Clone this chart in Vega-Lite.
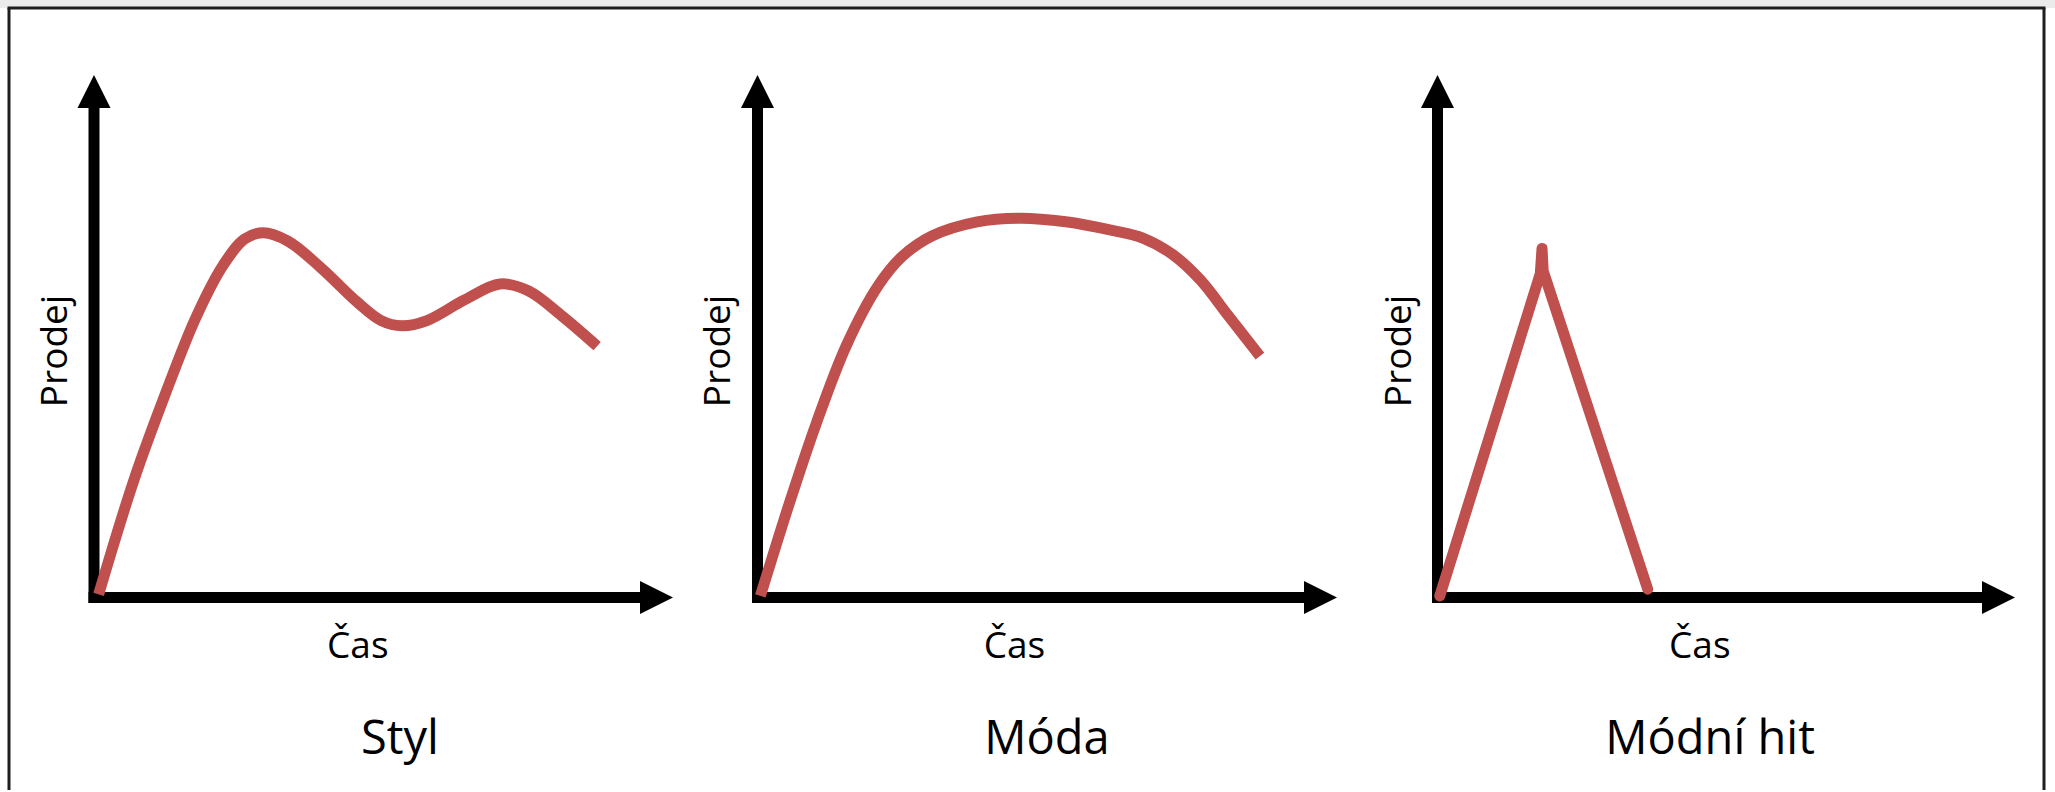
{
  "$schema": "https://vega.github.io/schema/vega-lite/v6.json",
  "padding": 0,
  "spacing": 0,
  "bounds": "flush",
  "background": "white",
  "config": {"view": {"stroke": null}, "font": "Open Sans"},
  "datasets": {
    "curves": [
      {"panel": "Styl", "i": 0, "t": 0.8, "sales": 0.6},
      {"panel": "Styl", "i": 1, "t": 6.9, "sales": 22.5},
      {"panel": "Styl", "i": 2, "t": 12.3, "sales": 38.9},
      {"panel": "Styl", "i": 3, "t": 17.6, "sales": 53.6},
      {"panel": "Styl", "i": 4, "t": 22.3, "sales": 63.6},
      {"panel": "Styl", "i": 5, "t": 26.0, "sales": 68.6},
      {"panel": "Styl", "i": 6, "t": 29.2, "sales": 69.8},
      {"panel": "Styl", "i": 7, "t": 33.5, "sales": 68.2},
      {"panel": "Styl", "i": 8, "t": 39.2, "sales": 63.1},
      {"panel": "Styl", "i": 9, "t": 45.4, "sales": 56.6},
      {"panel": "Styl", "i": 10, "t": 49.6, "sales": 53.0},
      {"panel": "Styl", "i": 11, "t": 53.2, "sales": 52.0},
      {"panel": "Styl", "i": 12, "t": 57.5, "sales": 53.0},
      {"panel": "Styl", "i": 13, "t": 63.9, "sales": 56.9},
      {"panel": "Styl", "i": 14, "t": 70.1, "sales": 60.0},
      {"panel": "Styl", "i": 15, "t": 75.0, "sales": 58.7},
      {"panel": "Styl", "i": 16, "t": 80.8, "sales": 53.9},
      {"panel": "Styl", "i": 17, "t": 86.9, "sales": 48.1},
      {"panel": "Móda", "i": 0, "t": 0.5, "sales": 0.3},
      {"panel": "Móda", "i": 1, "t": 5.4, "sales": 17.7},
      {"panel": "Móda", "i": 2, "t": 10.1, "sales": 33.2},
      {"panel": "Móda", "i": 3, "t": 15.4, "sales": 48.4},
      {"panel": "Móda", "i": 4, "t": 20.9, "sales": 59.8},
      {"panel": "Móda", "i": 5, "t": 25.0, "sales": 65.3},
      {"panel": "Móda", "i": 6, "t": 30.1, "sales": 69.2},
      {"panel": "Móda", "i": 7, "t": 37.9, "sales": 71.9},
      {"panel": "Móda", "i": 8, "t": 45.5, "sales": 72.6},
      {"panel": "Móda", "i": 9, "t": 53.2, "sales": 71.9},
      {"panel": "Móda", "i": 10, "t": 61.0, "sales": 70.3},
      {"panel": "Móda", "i": 11, "t": 66.5, "sales": 68.8},
      {"panel": "Móda", "i": 12, "t": 71.7, "sales": 65.6},
      {"panel": "Móda", "i": 13, "t": 76.4, "sales": 60.8},
      {"panel": "Móda", "i": 14, "t": 81.2, "sales": 54.0},
      {"panel": "Móda", "i": 15, "t": 86.7, "sales": 46.2},
      {"panel": "Módní hit", "i": 0, "t": 0.4, "sales": 0.3},
      {"panel": "Módní hit", "i": 1, "t": 17.8, "sales": 62.0},
      {"panel": "Módní hit", "i": 2, "t": 18.1, "sales": 66.8},
      {"panel": "Módní hit", "i": 3, "t": 18.3, "sales": 62.5},
      {"panel": "Módní hit", "i": 4, "t": 36.4, "sales": 1.6}
    ]
  },
  "hconcat": [
    {
      "width": 715,
      "height": 792,
      "layer": [
        {"data": {"values": [{}]}, "mark": {"type": "rect", "color": "#ebebeb"},
         "encoding": {"x": {"datum": -16.235, "type": "quantitative", "scale": {"domain": [-16.235, 107.254], "nice": false, "zero": false}, "axis": null},
                      "x2": {"datum": 107.254},
                      "y": {"datum": 112.82, "type": "quantitative", "scale": {"domain": [-37.225, 114.354], "nice": false, "zero": false}, "axis": null},
                      "y2": {"datum": 114.354}}},
        {"data": {"values": [{}]}, "mark": {"type": "rule", "color": "#1e1e1e", "strokeWidth": 3},
         "encoding": {"x": {"datum": -14.94, "type": "quantitative"}, "x2": {"datum": 107.254}, "y": {"datum": 112.82, "type": "quantitative"}}},
        {"data": {"values": [{}]}, "mark": {"type": "rule", "color": "#1e1e1e", "strokeWidth": 3},
         "encoding": {"x": {"datum": -14.68, "type": "quantitative"}, "y": {"datum": -36.85, "type": "quantitative"}, "y2": {"datum": 112.82}}},
        {"data": {"values": [{}]}, "mark": {"type": "rule", "color": "black", "strokeWidth": 11, "strokeCap": "square"},
         "encoding": {"x": {"datum": 0, "type": "quantitative"}, "y": {"datum": 0, "type": "quantitative"}, "y2": {"datum": 95}}},
        {"data": {"values": [{}]}, "mark": {"type": "rule", "color": "black", "strokeWidth": 11, "strokeCap": "square"},
         "encoding": {"x": {"datum": 0, "type": "quantitative"}, "x2": {"datum": 95}, "y": {"datum": 0, "type": "quantitative"}}},
        {"data": {"values": [{}]}, "mark": {"type": "point", "shape": "M0,0L1,2L-1,2Z", "size": 1089, "filled": true, "color": "black", "opacity": 1},
         "encoding": {"x": {"datum": 0, "type": "quantitative"}, "y": {"datum": 100, "type": "quantitative"}}},
        {"data": {"values": [{}]}, "mark": {"type": "point", "shape": "M0,0L-2,-1L-2,1Z", "size": 1089, "filled": true, "color": "black", "opacity": 1},
         "encoding": {"x": {"datum": 100, "type": "quantitative"}, "y": {"datum": 0, "type": "quantitative"}}},
        {"data": {"name": "curves"}, "transform": [{"filter": "datum.panel == 'Styl'"}],
         "mark": {"type": "line", "color": "#C0504D", "strokeWidth": 11, "interpolate": "catmull-rom", "strokeCap": "butt"},
         "encoding": {"x": {"field": "t", "type": "quantitative"}, "y": {"field": "sales", "type": "quantitative"}, "order": {"field": "i"}}},
        {"data": {"values": [{}]}, "mark": {"type": "text", "text": "Prodej", "angle": 270, "fontSize": 37, "font": "Open Sans", "align": "center", "baseline": "middle", "color": "black"},
         "encoding": {"x": {"datum": -6.56, "type": "quantitative"}, "y": {"datum": 47.18, "type": "quantitative"}}},
        {"data": {"values": [{}]}, "mark": {"type": "text", "text": "Čas", "fontSize": 37, "font": "Open Sans", "align": "center", "baseline": "alphabetic", "color": "black"},
         "encoding": {"x": {"datum": 45.56, "type": "quantitative"}, "y": {"datum": -11.6, "type": "quantitative"}}},
        {"data": {"values": [{}]}, "mark": {"type": "text", "text": "Styl", "fontSize": 47, "font": "Open Sans", "align": "center", "baseline": "alphabetic", "color": "black"},
         "encoding": {"x": {"datum": 52.85, "type": "quantitative"}, "y": {"datum": -29.95, "type": "quantitative"}}}
      ]
    },
    {
      "width": 670,
      "height": 792,
      "layer": [
        {"data": {"values": [{}]}, "mark": {"type": "rect", "color": "#ebebeb"},
         "encoding": {"x": {"datum": -7.334, "type": "quantitative", "scale": {"domain": [-7.334, 108.283], "nice": false, "zero": false}, "axis": null},
                      "x2": {"datum": 108.283},
                      "y": {"datum": 112.82, "type": "quantitative", "scale": {"domain": [-37.225, 114.354], "nice": false, "zero": false}, "axis": null},
                      "y2": {"datum": 114.354}}},
        {"data": {"values": [{}]}, "mark": {"type": "rule", "color": "#1e1e1e", "strokeWidth": 3},
         "encoding": {"x": {"datum": -7.334, "type": "quantitative"}, "x2": {"datum": 108.283}, "y": {"datum": 112.82, "type": "quantitative"}}},
        {"data": {"values": [{}]}, "mark": {"type": "rule", "color": "black", "strokeWidth": 11, "strokeCap": "square"},
         "encoding": {"x": {"datum": 0, "type": "quantitative"}, "y": {"datum": 0, "type": "quantitative"}, "y2": {"datum": 95}}},
        {"data": {"values": [{}]}, "mark": {"type": "rule", "color": "black", "strokeWidth": 11, "strokeCap": "square"},
         "encoding": {"x": {"datum": 0, "type": "quantitative"}, "x2": {"datum": 95}, "y": {"datum": 0, "type": "quantitative"}}},
        {"data": {"values": [{}]}, "mark": {"type": "point", "shape": "M0,0L1,2L-1,2Z", "size": 1089, "filled": true, "color": "black", "opacity": 1},
         "encoding": {"x": {"datum": 0, "type": "quantitative"}, "y": {"datum": 100, "type": "quantitative"}}},
        {"data": {"values": [{}]}, "mark": {"type": "point", "shape": "M0,0L-2,-1L-2,1Z", "size": 1089, "filled": true, "color": "black", "opacity": 1},
         "encoding": {"x": {"datum": 100, "type": "quantitative"}, "y": {"datum": 0, "type": "quantitative"}}},
        {"data": {"name": "curves"}, "transform": [{"filter": "datum.panel == 'Móda'"}],
         "mark": {"type": "line", "color": "#C0504D", "strokeWidth": 11, "interpolate": "catmull-rom", "strokeCap": "butt"},
         "encoding": {"x": {"field": "t", "type": "quantitative"}, "y": {"field": "sales", "type": "quantitative"}, "order": {"field": "i"}}},
        {"data": {"values": [{}]}, "mark": {"type": "text", "text": "Prodej", "angle": 270, "fontSize": 37, "font": "Open Sans", "align": "center", "baseline": "middle", "color": "black"},
         "encoding": {"x": {"datum": -6.56, "type": "quantitative"}, "y": {"datum": 47.18, "type": "quantitative"}}},
        {"data": {"values": [{}]}, "mark": {"type": "text", "text": "Čas", "fontSize": 37, "font": "Open Sans", "align": "center", "baseline": "alphabetic", "color": "black"},
         "encoding": {"x": {"datum": 44.33, "type": "quantitative"}, "y": {"datum": -11.6, "type": "quantitative"}}},
        {"data": {"values": [{}]}, "mark": {"type": "text", "text": "Móda", "fontSize": 47, "font": "Open Sans", "align": "center", "baseline": "alphabetic", "color": "black"},
         "encoding": {"x": {"datum": 49.96, "type": "quantitative"}, "y": {"datum": -29.95, "type": "quantitative"}}}
      ]
    },
    {
      "width": 670,
      "height": 792,
      "layer": [
        {"data": {"values": [{}]}, "mark": {"type": "rect", "color": "#ebebeb"},
         "encoding": {"x": {"datum": -9.091, "type": "quantitative", "scale": {"domain": [-9.091, 106.926], "nice": false, "zero": false}, "axis": null},
                      "x2": {"datum": 106.926},
                      "y": {"datum": 112.82, "type": "quantitative", "scale": {"domain": [-37.225, 114.354], "nice": false, "zero": false}, "axis": null},
                      "y2": {"datum": 114.354}}},
        {"data": {"values": [{}]}, "mark": {"type": "rule", "color": "#1e1e1e", "strokeWidth": 3},
         "encoding": {"x": {"datum": -9.091, "type": "quantitative"}, "x2": {"datum": 105.28}, "y": {"datum": 112.82, "type": "quantitative"}}},
        {"data": {"values": [{}]}, "mark": {"type": "rule", "color": "#1e1e1e", "strokeWidth": 3},
         "encoding": {"x": {"datum": 105.02, "type": "quantitative"}, "y": {"datum": -36.85, "type": "quantitative"}, "y2": {"datum": 112.82}}},
        {"data": {"values": [{}]}, "mark": {"type": "rule", "color": "black", "strokeWidth": 11, "strokeCap": "square"},
         "encoding": {"x": {"datum": 0, "type": "quantitative"}, "y": {"datum": 0, "type": "quantitative"}, "y2": {"datum": 95}}},
        {"data": {"values": [{}]}, "mark": {"type": "rule", "color": "black", "strokeWidth": 11, "strokeCap": "square"},
         "encoding": {"x": {"datum": 0, "type": "quantitative"}, "x2": {"datum": 95}, "y": {"datum": 0, "type": "quantitative"}}},
        {"data": {"values": [{}]}, "mark": {"type": "point", "shape": "M0,0L1,2L-1,2Z", "size": 1089, "filled": true, "color": "black", "opacity": 1},
         "encoding": {"x": {"datum": 0, "type": "quantitative"}, "y": {"datum": 100, "type": "quantitative"}}},
        {"data": {"values": [{}]}, "mark": {"type": "point", "shape": "M0,0L-2,-1L-2,1Z", "size": 1089, "filled": true, "color": "black", "opacity": 1},
         "encoding": {"x": {"datum": 100, "type": "quantitative"}, "y": {"datum": 0, "type": "quantitative"}}},
        {"data": {"name": "curves"}, "transform": [{"filter": "datum.panel == 'Módní hit'"}],
         "mark": {"type": "line", "color": "#C0504D", "strokeWidth": 11, "interpolate": "linear", "strokeCap": "round", "strokeJoin": "round"},
         "encoding": {"x": {"field": "t", "type": "quantitative"}, "y": {"field": "sales", "type": "quantitative"}, "order": {"field": "i"}}},
        {"data": {"values": [{}]}, "mark": {"type": "text", "text": "Prodej", "angle": 270, "fontSize": 37, "font": "Open Sans", "align": "center", "baseline": "middle", "color": "black"},
         "encoding": {"x": {"datum": -6.58, "type": "quantitative"}, "y": {"datum": 47.18, "type": "quantitative"}}},
        {"data": {"values": [{}]}, "mark": {"type": "text", "text": "Čas", "fontSize": 37, "font": "Open Sans", "align": "center", "baseline": "alphabetic", "color": "black"},
         "encoding": {"x": {"datum": 45.42, "type": "quantitative"}, "y": {"datum": -11.6, "type": "quantitative"}}},
        {"data": {"values": [{}]}, "mark": {"type": "text", "text": "Módní hit", "fontSize": 47, "font": "Open Sans", "align": "center", "baseline": "alphabetic", "color": "black"},
         "encoding": {"x": {"datum": 47.2, "type": "quantitative"}, "y": {"datum": -29.95, "type": "quantitative"}}}
      ]
    }
  ]
}
